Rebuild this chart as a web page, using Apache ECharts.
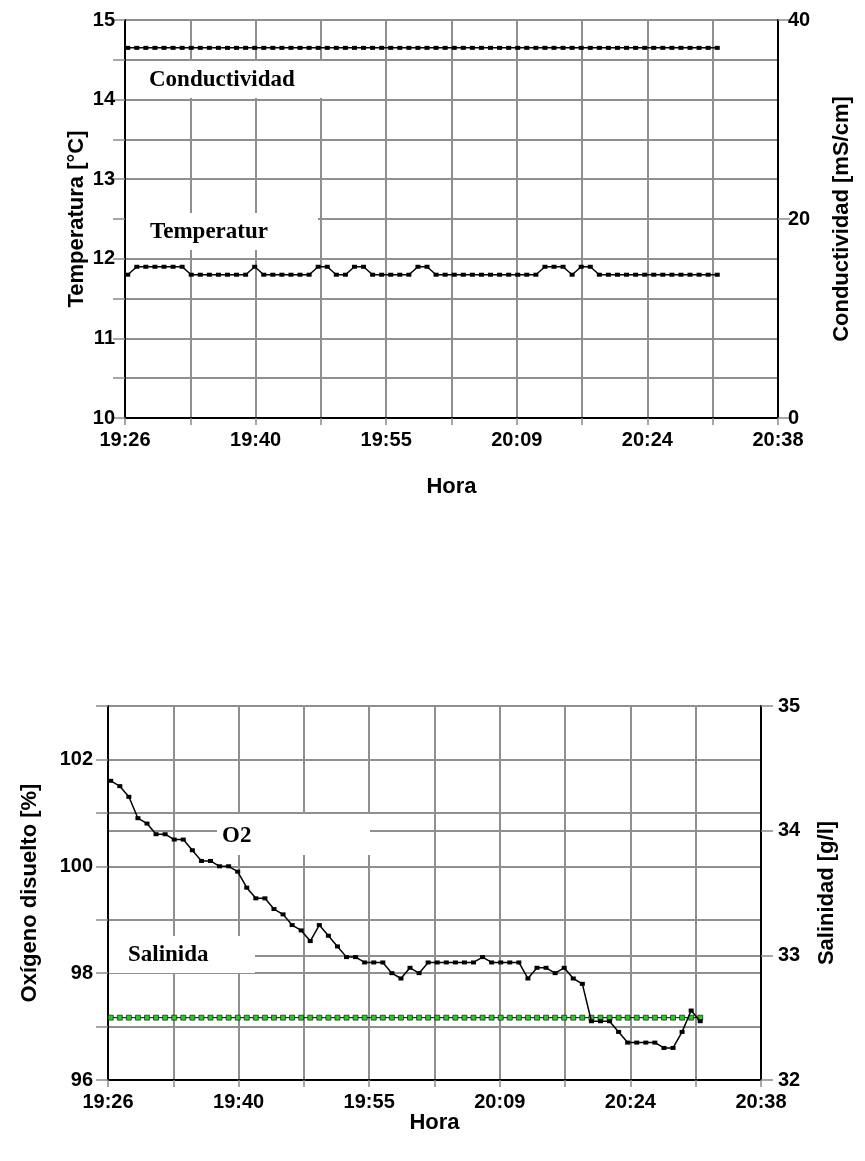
<!DOCTYPE html>
<html>
<head>
<meta charset="utf-8">
<script src="https://cdn.jsdelivr.net/npm/echarts@6/dist/echarts.min.js"></script>
<style>
  html, body { margin: 0; padding: 0; background: #fff; }
  #chart { width: 865px; height: 1161px; }
</style>
</head>
<body>
<div id="chart"></div>
<script>
// Reading times (one per minute)
const horas = [
  '19:26:42','19:27:42','19:28:42','19:29:42','19:30:42','19:31:42','19:32:42','19:33:42','19:34:42','19:35:42',
  '19:36:42','19:37:42','19:38:42','19:39:42','19:40:42','19:41:42','19:42:42','19:43:42','19:44:42','19:45:42',
  '19:46:42','19:47:42','19:48:42','19:49:42','19:50:42','19:51:42','19:52:42','19:53:42','19:54:42','19:55:42',
  '19:56:42','19:57:42','19:58:42','19:59:42','20:00:42','20:01:42','20:02:42','20:03:42','20:04:42','20:05:42',
  '20:06:42','20:07:42','20:08:42','20:09:42','20:10:42','20:11:42','20:12:42','20:13:42','20:14:42','20:15:42',
  '20:16:42','20:17:42','20:18:42','20:19:42','20:20:42','20:21:42','20:22:42','20:23:42','20:24:42','20:25:42',
  '20:26:42','20:27:42','20:28:42','20:29:42','20:30:42','20:31:42'
];

// Temperatura [°C]
const temperatura = [
  11.8,11.9,11.9,11.9,11.9,11.9,11.9,11.8,11.8,11.8,
  11.8,11.8,11.8,11.8,11.9,11.8,11.8,11.8,11.8,11.8,
  11.8,11.9,11.9,11.8,11.8,11.9,11.9,11.8,11.8,11.8,
  11.8,11.8,11.9,11.9,11.8,11.8,11.8,11.8,11.8,11.8,
  11.8,11.8,11.8,11.8,11.8,11.8,11.9,11.9,11.9,11.8,
  11.9,11.9,11.8,11.8,11.8,11.8,11.8,11.8,11.8,11.8,
  11.8,11.8,11.8,11.8,11.8,11.8
];

// Conductividad [mS/cm]
const conductividad = [
  37.2,37.2,37.2,37.2,37.2,37.2,37.2,37.2,37.2,37.2,
  37.2,37.2,37.2,37.2,37.2,37.2,37.2,37.2,37.2,37.2,
  37.2,37.2,37.2,37.2,37.2,37.2,37.2,37.2,37.2,37.2,
  37.2,37.2,37.2,37.2,37.2,37.2,37.2,37.2,37.2,37.2,
  37.2,37.2,37.2,37.2,37.2,37.2,37.2,37.2,37.2,37.2,
  37.2,37.2,37.2,37.2,37.2,37.2,37.2,37.2,37.2,37.2,
  37.2,37.2,37.2,37.2,37.2,37.2
];

// Oxígeno disuelto [%]
const oxigeno = [
  101.6,101.5,101.3,100.9,100.8,100.6,100.6,100.5,100.5,100.3,
  100.1,100.1,100.0,100.0,99.9,99.6,99.4,99.4,99.2,99.1,
  98.9,98.8,98.6,98.9,98.7,98.5,98.3,98.3,98.2,98.2,
  98.2,98.0,97.9,98.1,98.0,98.2,98.2,98.2,98.2,98.2,
  98.2,98.3,98.2,98.2,98.2,98.2,97.9,98.1,98.1,98.0,
  98.1,97.9,97.8,97.1,97.1,97.1,96.9,96.7,96.7,96.7,
  96.7,96.6,96.6,96.9,97.3,97.1
];

// Salinidad [g/l]
const salinidad = [
  32.5,32.5,32.5,32.5,32.5,32.5,32.5,32.5,32.5,32.5,
  32.5,32.5,32.5,32.5,32.5,32.5,32.5,32.5,32.5,32.5,
  32.5,32.5,32.5,32.5,32.5,32.5,32.5,32.5,32.5,32.5,
  32.5,32.5,32.5,32.5,32.5,32.5,32.5,32.5,32.5,32.5,
  32.5,32.5,32.5,32.5,32.5,32.5,32.5,32.5,32.5,32.5,
  32.5,32.5,32.5,32.5,32.5,32.5,32.5,32.5,32.5,32.5,
  32.5,32.5,32.5,32.5,32.5,32.5
];

// Time axis in seconds after midnight: 19:26:24 .. 20:38:24, grid every 7.2 min
const X_MIN = 69984, X_MAX = 74304, X_STEP = 432;

function toSeconds(hms) {
  const p = hms.split(':').map(Number);
  return p[0] * 3600 + p[1] * 60 + p[2];
}
function pairs(values) {
  return values.map((v, i) => [toSeconds(horas[i]), v]);
}
function hhmm(sec) {
  const m = Math.floor(sec / 60 + 1e-6);
  const h = Math.floor(m / 60), mm = m % 60;
  return h + ':' + (mm < 10 ? '0' : '') + mm;
}

const SANS = '"Liberation Sans", Arial, sans-serif';
const SERIF = '"Liberation Serif", "Times New Roman", serif';
const GRID_COLOR = '#8f8f8f';
const TICK_COLOR = '#8a8a8a';

const labelFont = { fontFamily: SANS, fontWeight: 'bold', fontSize: 20, color: '#000' };
const nameFont = { fontFamily: SANS, fontWeight: 'bold', fontSize: 22, color: '#000' };

function xAxisFor(gridIndex, nameGap) {
  return {
    type: 'value', gridIndex, min: X_MIN, max: X_MAX, interval: X_STEP,
    name: 'Hora', nameLocation: 'middle', nameGap, nameMoveOverlap: false, nameTextStyle: nameFont,
    axisLine: { show: true, onZero: false, lineStyle: { color: '#000', width: 2 } },
    axisTick: { show: true, length: 7, lineStyle: { color: TICK_COLOR, width: 1.5 } },
    axisLabel: Object.assign({
      margin: 12,
      formatter: v => (Math.round((v - X_MIN) / X_STEP) % 2 === 0 ? hhmm(v) : '')
    }, labelFont),
    splitLine: { show: true, lineStyle: { color: GRID_COLOR, width: 2 } }
  };
}

function yAxisFor(gridIndex, position, min, max, interval, name, nameGap, margin, showEvery, split) {
  return {
    type: 'value', gridIndex, position, min, max, interval,
    name, nameLocation: 'middle', nameGap, nameMoveOverlap: false, nameTextStyle: nameFont,
    axisLine: { show: true, onZero: false, lineStyle: { color: '#000', width: 2 } },
    axisTick: { show: true, length: 12, lineStyle: { color: TICK_COLOR, width: 1.5 } },
    axisLabel: Object.assign({
      margin,
      formatter: v => (Math.abs(Math.round(v / showEvery) * showEvery - v) < 1e-6 ? String(Math.round(v)) : '')
    }, labelFont),
    splitLine: { show: split, lineStyle: { color: GRID_COLOR, width: 2 } }
  };
}

function blackSeries(name, xi, yi, values) {
  return {
    name, type: 'line', xAxisIndex: xi, yAxisIndex: yi,
    data: pairs(values),
    symbol: 'rect', symbolSize: [5, 4], showSymbol: true,
    itemStyle: { color: '#000' },
    lineStyle: { color: '#000', width: 1.5 },
    animation: false, z: 3
  };
}

// White-backed text label placed over the grid lines
function boxedLabel(text, box, tx, ty) {
  return {
    type: 'group',
    children: [
      { type: 'rect', z: 100, shape: box, style: { fill: '#fff' } },
      { type: 'text', z: 101, x: tx, y: ty,
        style: { text, font: 'bold 23px ' + SERIF, fill: '#000', verticalAlign: 'middle' } }
    ]
  };
}

const chart = echarts.init(document.getElementById('chart'), null, { renderer: 'canvas' });

chart.setOption({
  backgroundColor: '#fff',
  animation: false,
  grid: [
    { left: 125, top: 20, width: 653, height: 398 },
    { left: 108, top: 706, width: 653, height: 374 }
  ],
  xAxis: [xAxisFor(0, 58), xAxisFor(1, 32)],
  yAxis: [
    yAxisFor(0, 'left', 10, 15, 0.5, 'Temperatura [°C]', 37, 10, 1, true),
    yAxisFor(0, 'right', 0, 40, 20, 'Conductividad [mS/cm]', 53, 10, 20, false),
    yAxisFor(1, 'left', 96, 103, 1, 'Oxígeno disuelto [%]', 67, 15, 2, true),
    yAxisFor(1, 'right', 32, 35, 1, 'Salinidad [g/l]', 55, 17, 1, true)
  ],
  series: [
    blackSeries('Conductividad', 0, 1, conductividad),
    blackSeries('Temperatura', 0, 0, temperatura),
    {
      name: 'Salinidad', type: 'line', xAxisIndex: 1, yAxisIndex: 3,
      data: pairs(salinidad),
      symbol: 'rect', symbolSize: 5, showSymbol: true,
      itemStyle: { color: '#22d022', borderColor: '#000', borderWidth: 0.6 },
      lineStyle: { color: '#000', width: 1 },
      z: 2
    },
    blackSeries('O2', 1, 2, oxigeno)
  ],
  graphic: [
    boxedLabel('Conductividad', { x: 126, y: 61, width: 216, height: 37 }, 149, 80),
    boxedLabel('Temperatur', { x: 126, y: 213, width: 192, height: 37 }, 150, 232),
    boxedLabel('O2', { x: 217, y: 814, width: 153, height: 41 }, 222, 836),
    boxedLabel('Salinida', { x: 109, y: 936, width: 146, height: 37 }, 128, 955)
  ]
});
</script>
</body>
</html>
